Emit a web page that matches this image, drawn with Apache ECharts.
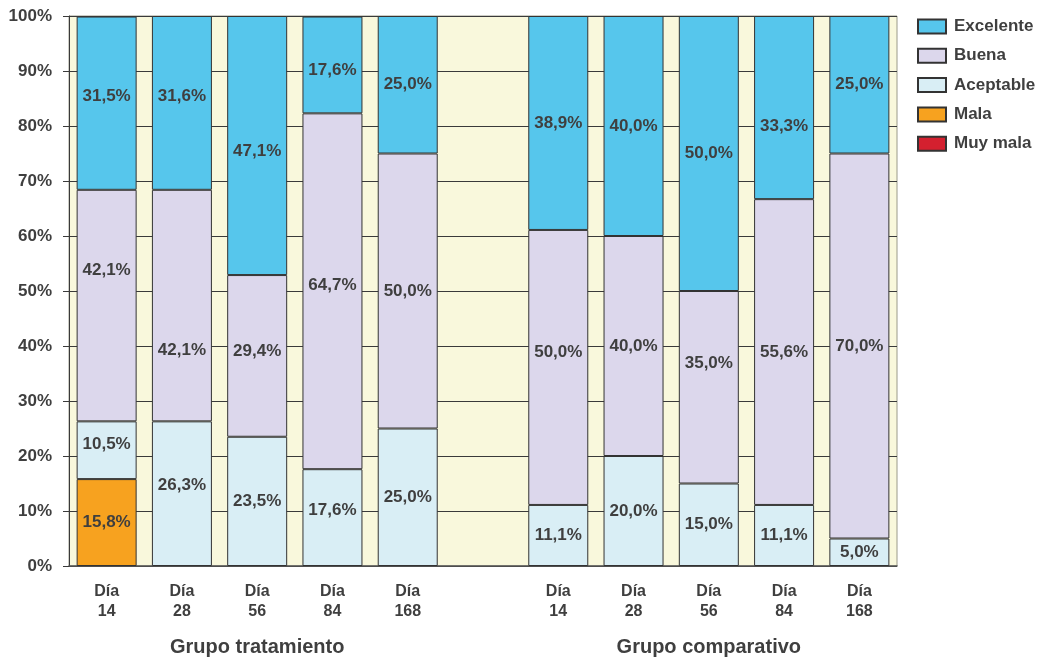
<!DOCTYPE html>
<html>
<head>
<meta charset="utf-8">
<script src="https://cdn.jsdelivr.net/npm/echarts@6/dist/echarts.min.js"></script>
<style>
  html, body { margin: 0; padding: 0; background: #ffffff; }
  #chart { width: 1042px; height: 661px; }
</style>
</head>
<body>
<div id="chart"></div>
<script>
// Day slots per group; the empty slot separates the two groups.
const categories = ['Día\n14', 'Día\n28', 'Día\n56', 'Día\n84', 'Día\n168', '',
                    'Día\n14', 'Día\n28', 'Día\n56', 'Día\n84', 'Día\n168'];
const groupNames = ['Grupo tratamiento', 'Grupo comparativo'];

// Percentages per rating (null = no segment)
const muyMala   = [null, null, null, null, null, null, null, null, null, null, null];
const mala      = [15.8, null, null, null, null, null, null, null, null, null, null];
const aceptable = [10.5, 26.3, 23.5, 17.6, 25.0, null, 11.1, 20.0, 15.0, 11.1, 5.0];
const buena     = [42.1, 42.1, 29.4, 64.7, 50.0, null, 50.0, 40.0, 35.0, 55.6, 70.0];
const excelente = [31.5, 31.6, 47.1, 17.6, 25.0, null, 38.9, 40.0, 50.0, 33.3, 25.0];

const legendOrder = ['Excelente', 'Buena', 'Aceptable', 'Mala', 'Muy mala'];

// Vertical label nudges (px) for a few crowded segments
const labelNudge = {
  'Excelente': { 0: -7, 1: -7, 2: 6, 3: 5, 9: 19 },
  'Buena':     { 0: -35, 1: 45, 2: -5, 3: -6, 6: -15, 8: -24 },
  'Aceptable': { 0: -6, 1: -8, 3: -7 }
};

const FONT = '"Liberation Sans", Arial, sans-serif';
const TEXT = '#3f3f3f';

function buildData(name, values) {
  const nudge = labelNudge[name] || {};
  return values.map((v, i) => {
    if (v === null) return '-';
    const item = { value: v };
    if (nudge[i]) item.label = { offset: [0, nudge[i]] };
    return item;
  });
}

function makeSeries(name, values, color) {
  return {
    name: name,
    type: 'bar',
    stack: 'total',
    barWidth: 60,
    data: buildData(name, values),
    itemStyle: { color: color, borderColor: '#333333', borderWidth: 1 },
    label: {
      show: true,
      position: 'inside',
      color: TEXT,
      fontFamily: FONT,
      fontWeight: 'bold',
      fontSize: 17,
      formatter: p => (typeof p.value === 'number')
        ? p.value.toFixed(1).replace('.', ',') + '%' : ''
    },
    emphasis: { disabled: true }
  };
}

const chart = echarts.init(document.getElementById('chart'), null, { renderer: 'canvas' });

const option = {
  animation: false,
  backgroundColor: '#ffffff',
  grid: {
    left: 69, top: 16, right: 145, bottom: 95,
    show: true, backgroundColor: '#f9f8dc',
    borderColor: '#9a9a8a', borderWidth: 1
  },
  legend: {
    data: legendOrder,
    orient: 'vertical',
    left: 917, top: 18, padding: 0,
    icon: 'rect',
    itemWidth: 28, itemHeight: 14, itemGap: 12.3,
    textStyle: { color: TEXT, fontFamily: FONT, fontWeight: 'bold', fontSize: 17, padding: [0, 0, 0, 3] },
    selectedMode: false
  },
  xAxis: {
    type: 'category',
    data: categories,
    axisTick: { show: false },
    axisLine: { lineStyle: { color: '#555555', width: 1.5 } },
    axisLabel: {
      color: TEXT, fontFamily: FONT, fontWeight: 'bold', fontSize: 16,
      lineHeight: 20, margin: 16, interval: 0
    }
  },
  yAxis: {
    type: 'value',
    min: 0, max: 100, interval: 10,
    axisLine: { show: true, lineStyle: { color: '#3a3a3a', width: 1 } },
    axisTick: { show: true, length: 6, lineStyle: { color: '#3a3a3a' } },
    splitLine: { lineStyle: { color: '#3a3a3a', width: 1 } },
    axisLabel: {
      formatter: '{value}%', color: TEXT, fontFamily: FONT,
      fontWeight: 'bold', fontSize: 17, margin: 17
    }
  },
  series: [
    makeSeries('Mala', mala, '#f7a21f'),
    makeSeries('Aceptable', aceptable, '#d9eef5'),
    makeSeries('Buena', buena, '#dcd7ec'),
    makeSeries('Excelente', excelente, '#56c6ec'),
    makeSeries('Muy mala', muyMala, '#d4202f')
  ]
};

chart.setOption(option);

// Group titles centred under each set of five bars
const xa = chart.convertToPixel({ xAxisIndex: 0 }, 2);
const xb = chart.convertToPixel({ xAxisIndex: 0 }, 8);
chart.setOption({
  graphic: [xa, xb].map((x, i) => ({
    type: 'text',
    x: x, y: 647,
    style: {
      text: groupNames[i],
      fill: TEXT,
      font: 'bold 20px ' + FONT,
      textAlign: 'center',
      textVerticalAlign: 'middle'
    }
  }))
});
</script>
</body>
</html>
